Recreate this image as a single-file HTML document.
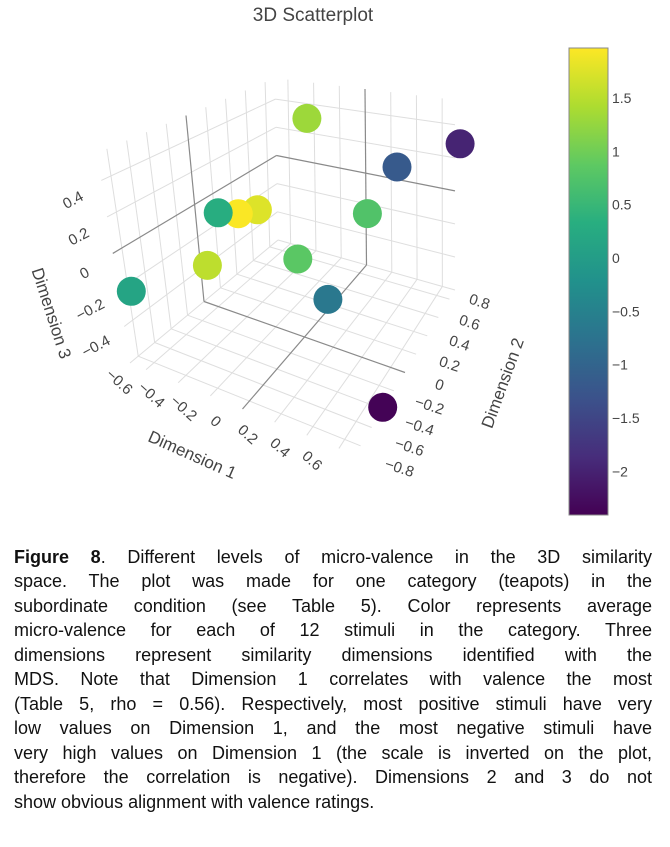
<!DOCTYPE html>
<html><head><meta charset="utf-8">
<style>
html,body{margin:0;padding:0;background:#fff;}
body{width:670px;height:847px;position:relative;overflow:hidden;font-family:"Liberation Sans",sans-serif;}
svg{position:absolute;left:0;top:0;}
.cap{position:absolute;left:14px;width:638px;font-size:18px;color:#111;white-space:nowrap;text-align:justify;text-align-last:justify;line-height:20px;}
.cap.last{text-align-last:left;}
</style></head>
<body>
<svg id="chart" width="670" height="530">
  <text x="313" y="21" text-anchor="middle" font-size="19" fill="#444">3D Scatterplot</text>
  <g id="grid"></g>
  <g id="ticks"></g>
  <g id="pts"></g>
  <text transform="translate(190,460) rotate(24)" text-anchor="middle" font-size="17" fill="#444">Dimension 1</text>
  <text transform="translate(508,385) rotate(-70)" text-anchor="middle" font-size="17" fill="#444">Dimension 2</text>
  <text transform="translate(46,315) rotate(72)" text-anchor="middle" font-size="17" fill="#444">Dimension 3</text>
  <defs><linearGradient id="vir" x1="0" y1="1" x2="0" y2="0">
    <stop offset="0" stop-color="#440154"/><stop offset="0.125" stop-color="#472d7b"/><stop offset="0.25" stop-color="#3b528b"/><stop offset="0.375" stop-color="#2c728e"/><stop offset="0.5" stop-color="#21918c"/><stop offset="0.625" stop-color="#28ae80"/><stop offset="0.75" stop-color="#5ec962"/><stop offset="0.875" stop-color="#addc30"/><stop offset="1" stop-color="#fde725"/>
  </linearGradient></defs>
  <rect x="569" y="48" width="39" height="467" fill="url(#vir)" stroke="#888" stroke-width="1"/>
  <g id="cbticks"></g>
</svg>
<div class="cap" style="top:547px"><b>Figure 8</b>. Different levels of micro-valence in the 3D similarity</div>
<div class="cap" style="top:571px">space. The plot was made for one category (teapots) in the</div>
<div class="cap" style="top:596px">subordinate condition (see Table 5). Color represents average</div>
<div class="cap" style="top:620px">micro-valence for each of 12 stimuli in the category. Three</div>
<div class="cap" style="top:645px">dimensions represent similarity dimensions identified with the</div>
<div class="cap" style="top:669px">MDS. Note that Dimension 1 correlates with valence the most</div>
<div class="cap" style="top:694px">(Table 5, rho = 0.56). Respectively, most positive stimuli have very</div>
<div class="cap" style="top:718px">low values on Dimension 1, and the most negative stimuli have</div>
<div class="cap" style="top:743px">very high values on Dimension 1 (the scale is inverted on the plot,</div>
<div class="cap" style="top:767px">therefore the correlation is negative). Dimensions 2 and 3 do not</div>
<div class="cap last" style="top:792px">show obvious alignment with valence ratings.</div>
<script>
const dim1 = [-0.27, 0.74, 0.49, -0.54, -0.40, -0.32, 0.31, -0.48, -0.11, 0.23, -0.70, 0.70];
const dim2 = [0.63, 0.90, 0.45, 0.00, 0.00, 0.09, 0.36, -0.27, 0.18, -0.09, -0.77, -0.40];
const dim3 = [0.42, 0.29, 0.31, -0.01, 0.02, 0.03, 0.04, -0.21, -0.25, -0.28, -0.25, -0.59];
const valence = [1.31, -1.97, -1.18, 0.31, 1.95, 1.75, 0.74, 1.53, 0.83, -0.66, 0.13, -2.38];
const xTicks = [-0.6, -0.4, -0.2, 0, 0.2, 0.4, 0.6];
const yTicks = [-0.8, -0.6, -0.4, -0.2, 0, 0.2, 0.4, 0.6, 0.8];
const zTicks = [-0.6, -0.4, -0.2, 0, 0.2, 0.4];
const cbTicks = [1.5, 1, 0.5, 0, -0.5, -1, -1.5, -2];

const XR=[-0.7,0.7], YR=[-0.9,0.9], ZR=[-0.6,0.55], CR=[-2.41,1.97];
const C = {f00:[130,363],f10:[355,455],f11:[455,290],f01:[278,240],
           t00:[97,153],t10:[335,225],t11:[455,100],t01:[275,78]};
function lerp(a,b,t){return [a[0]+(b[0]-a[0])*t,a[1]+(b[1]-a[1])*t];}
function projUVW(u,v,w){
  const fl=lerp(C.f00,C.f01,v), fr=lerp(C.f10,C.f11,v);
  const tl=lerp(C.t00,C.t01,v), tr=lerp(C.t10,C.t11,v);
  return lerp(lerp(fl,fr,u),lerp(tl,tr,u),w);
}
const U=x=>(x-XR[0])/(XR[1]-XR[0]), V=y=>(y-YR[0])/(YR[1]-YR[0]), W=z=>(z-ZR[0])/(ZR[1]-ZR[0]);
function proj(x,y,z){return projUVW(U(x),V(y),W(z));}
const NS='http://www.w3.org/2000/svg';
function line(g,a,b,zero){
  const l=document.createElementNS(NS,'line');
  l.setAttribute('x1',a[0]);l.setAttribute('y1',a[1]);l.setAttribute('x2',b[0]);l.setAttribute('y2',b[1]);
  l.setAttribute('stroke',zero?'#8a8a8a':'#dedede');l.setAttribute('stroke-width',zero?1.2:1);
  
  
  g.appendChild(l);
}
const grid=document.getElementById('grid');
const zeroLines=[];
function addLine(a,b,zero){ if(zero) zeroLines.push([a,b]); else line(grid,a,b,false); }
xTicks.forEach(x=>addLine(projUVW(U(x),0,0),projUVW(U(x),1,0),x===0));
yTicks.forEach(y=>addLine(projUVW(0,V(y),0),projUVW(1,V(y),0),y===0));
yTicks.forEach(y=>addLine(projUVW(0,V(y),0),projUVW(0,V(y),1),y===0));
zTicks.forEach(z=>addLine(projUVW(0,0,W(z)),projUVW(0,1,W(z)),z===0));
xTicks.forEach(x=>addLine(projUVW(U(x),1,0),projUVW(U(x),1,1),x===0));
zTicks.forEach(z=>addLine(projUVW(0,1,W(z)),projUVW(1,1,W(z)),z===0));
zeroLines.forEach(p=>line(grid,p[0],p[1],true));

const tg=document.getElementById('ticks');
function label(txt,p,rot,anchor){
  const t=document.createElementNS(NS,'text');
  t.setAttribute('transform','translate('+p[0].toFixed(1)+','+p[1].toFixed(1)+') rotate('+rot+')');
  t.setAttribute('text-anchor',anchor);t.setAttribute('font-size','15');t.setAttribute('fill','#444');
  t.textContent=txt;
  
  
  tg.appendChild(t);
}
const fmt=v=>v===0?'0':(v<0?'\u2212':'')+String(Math.abs(v));
xTicks.forEach(x=>{const p=proj(x,YR[0],ZR[0]);label(fmt(x),[p[0]-30,p[1]+16],42,'middle');});
yTicks.forEach(y=>{const p=proj(XR[1],y,ZR[0]);const k=1-V(y);label(fmt(y),[p[0]+28+10*k,p[1]+6+22*k],18,'middle');});
zTicks.forEach(z=>{if(z<=-0.6)return;const p=proj(XR[0],YR[0],z);label(fmt(z),[p[0]-26,p[1]+24],-28,'middle');});

const VS=['#440154','#472d7b','#3b528b','#2c728e','#21918c','#28ae80','#5ec962','#addc30','#fde725'];
function hex(h){return [1,3,5].map(i=>parseInt(h.substr(i,2),16));}
function viridis(t){t=Math.max(0,Math.min(1,t));const s=t*8,i=Math.min(7,Math.floor(s)),f=s-i;
  const a=hex(VS[i]),b=hex(VS[i+1]);return 'rgb('+a.map((c,k)=>Math.round(c+(b[k]-c)*f)).join(',')+')';}

const pg=document.getElementById('pts');
const order=dim1.map((_,i)=>i).sort((a,b)=>(V(dim2[b])-V(dim2[a]))||(U(dim1[b])-U(dim1[a])));
order.forEach(i=>{
  const p=proj(dim1[i],dim2[i],dim3[i]);
  const c=document.createElementNS(NS,'circle');
  c.setAttribute('cx',p[0].toFixed(1));c.setAttribute('cy',p[1].toFixed(1));c.setAttribute('r',14.5);
  c.setAttribute('fill',viridis((valence[i]-CR[0])/(CR[1]-CR[0])));
  
  
  pg.appendChild(c);
});

const cg=document.getElementById('cbticks');
cbTicks.forEach(v=>{
  const y=515-(v-CR[0])/(CR[1]-CR[0])*467;
  const t=document.createElementNS(NS,'text');
  t.setAttribute('x',612);t.setAttribute('y',(y+5).toFixed(1));t.setAttribute('font-size','14');t.setAttribute('fill','#444');
  t.textContent=v===0?'0':(v<0?'\u2212':'')+Math.abs(v);
  
  
  cg.appendChild(t);
});
</script>
</body></html>
